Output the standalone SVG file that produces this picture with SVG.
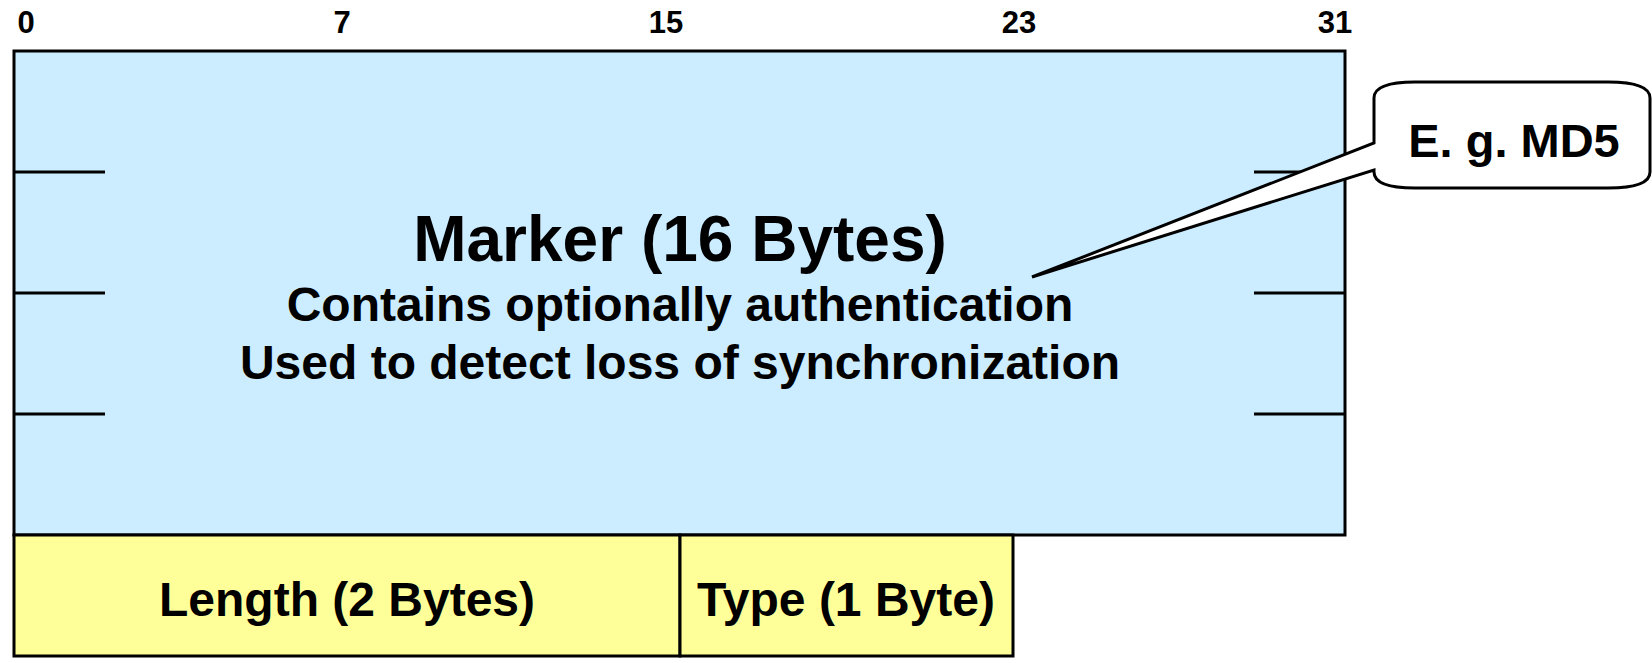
<svg xmlns="http://www.w3.org/2000/svg" width="1652" height="663" viewBox="0 0 1652 663">
<style>
text{font-family:"Liberation Sans",Arial,sans-serif;font-weight:bold;fill:#000;text-anchor:middle}
.bit{font-size:31px}
.ln{stroke:#000;stroke-width:3;fill:none}
.box{stroke:#000;stroke-width:3}
</style>
<rect width="1652" height="663" fill="#fff"/>
<g id="bit-labels">
<text class="bit" x="26" y="33">0</text>
<text class="bit" x="342" y="33">7</text>
<text class="bit" x="666" y="33">15</text>
<text class="bit" x="1019" y="33">23</text>
<text class="bit" x="1335" y="33">31</text>
</g>
<g id="marker">
<rect class="box" x="14" y="51" width="1331" height="484" fill="#CCECFF"/>
<path class="ln" d="M14 172H105M14 293H105M14 414H105M1254 172H1345M1254 293H1345M1254 414H1345"/>
<text x="680" y="261" style="font-size:64px">Marker (16 Bytes)</text>
<text x="680" y="321" style="font-size:48px">Contains optionally authentication</text>
<text x="680" y="379" style="font-size:48px">Used to detect loss of synchronization</text>
</g>
<g id="length">
<rect class="box" x="14" y="535" width="666" height="121" fill="#FFFF99"/>
<text x="347" y="616" style="font-size:48px">Length (2 Bytes)</text>
</g>
<g id="type">
<rect class="box" x="680" y="535" width="333" height="121" fill="#FFFF99"/>
<text x="846" y="616" style="font-size:48px">Type (1 Byte)</text>
</g>
<g id="callout">
<path class="box" fill="#fff" d="M1415 82H1608Q1650 82 1650 98V172Q1650 188 1608 188H1415Q1374 188 1374 172V170L1032 277L1374 143V98Q1374 82 1415 82Z"/>
<text x="1514" y="157" style="font-size:47px">E. g. MD5</text>
</g>
</svg>
